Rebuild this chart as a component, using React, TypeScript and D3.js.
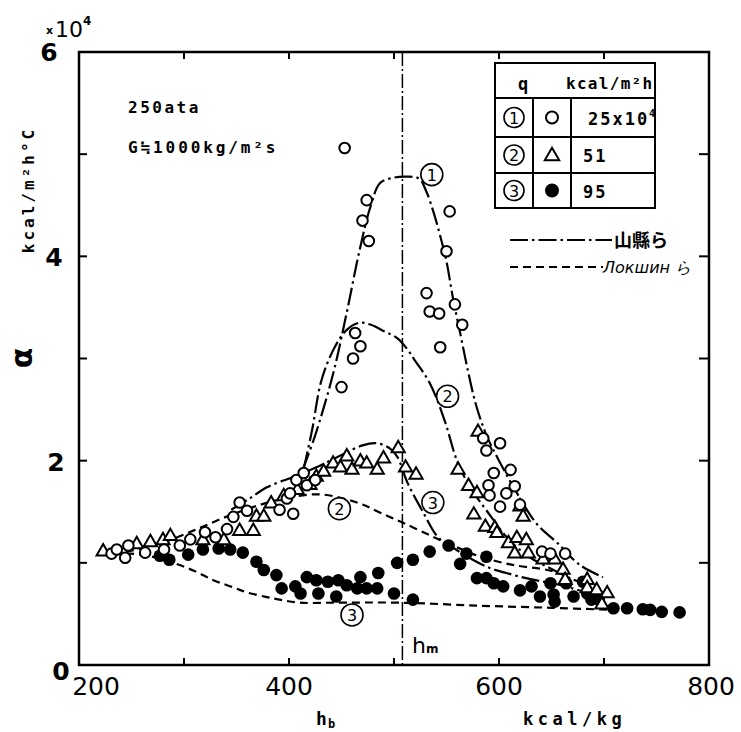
import React from "react";
import * as d3 from "d3";

// heat transfer coefficient alpha (x10^4 kcal/m2h°C) against bulk enthalpy h_b (kcal/kg)
const openCircles: [number, number][] = [
  [231, 1.09], [236, 1.13], [244, 1.05], [247, 1.17], [263, 1.1], [281, 1.13], [296, 1.17],
  [306, 1.23], [320, 1.3], [330, 1.25], [341, 1.33], [347, 1.45], [353, 1.59], [360, 1.51],
  [391, 1.52], [398, 1.63], [401, 1.68], [404, 1.48], [407, 1.81], [414, 1.88], [417, 1.76],
  [425, 1.81],
  [453, 5.06], [474, 4.55], [470, 4.35], [476, 4.15], [463, 3.25], [468, 3.12], [461, 3.0],
  [450, 2.72],
  [553, 4.44], [550, 4.05], [531, 3.64], [534, 3.46], [543, 3.44], [558, 3.53], [565, 3.33],
  [544, 3.11],
  [585, 2.22], [601, 2.17], [588, 2.1], [611, 1.91], [595, 1.88], [590, 1.76], [615, 1.75],
  [591, 1.66], [607, 1.68], [601, 1.55], [620, 1.57], [641, 1.11], [649, 1.09], [663, 1.09],
];

const triangles: [number, number][] = [
  [223, 1.11], [255, 1.18], [268, 1.2], [280, 1.22], [287, 1.26], [318, 1.22], [338, 1.22],
  [353, 1.31], [366, 1.31], [369, 1.45], [376, 1.45], [383, 1.58], [395, 1.65], [408, 1.71],
  [420, 1.76], [426, 1.84], [433, 1.89],
  [442, 1.97], [449, 1.93], [455, 2.04], [460, 1.91], [468, 1.99], [474, 1.97], [484, 1.91],
  [490, 2.02], [504, 2.12], [511, 1.93], [521, 1.86],
  [561, 1.91], [571, 1.75], [579, 1.68], [576, 1.47], [580, 2.28], [587, 1.35], [596, 1.34],
  [598, 1.29], [609, 1.19], [617, 1.24], [626, 1.22], [615, 1.09], [628, 1.09], [620, 1.55],
  [623, 1.45], [642, 1.03], [653, 1.03], [661, 0.93], [663, 0.83], [684, 0.83], [684, 0.75],
  [693, 0.73], [703, 0.7], [698, 0.59],
];

const filledDots: [number, number][] = [
  [277, 1.07], [286, 1.03], [304, 1.08], [318, 1.13], [333, 1.14], [344, 1.13], [356, 1.1],
  [369, 1.01], [376, 0.93], [388, 0.88], [393, 0.75], [406, 0.77], [411, 0.7], [417, 0.86],
  [426, 0.83], [428, 0.7], [437, 0.815], [445, 0.67], [447, 0.83], [455, 0.78], [465, 0.75],
  [468, 0.86], [474, 0.75], [484, 0.75], [485, 0.9], [500, 0.7], [503, 1.0], [518, 0.64],
  [518, 1.03], [534, 1.11], [552, 1.17], [563, 0.99], [569, 1.09], [588, 1.06], [579, 0.85],
  [588, 0.85], [595, 0.8], [604, 0.77], [620, 0.73], [631, 0.77], [639, 0.67], [649, 0.8],
  [652, 0.69], [653, 0.62], [664, 0.8], [671, 0.67], [680, 0.815], [684, 0.7], [688, 0.64],
  [695, 0.64], [709, 0.555], [722, 0.555], [737, 0.545], [744, 0.54], [755, 0.52], [772, 0.515],
];

// 山縣ら (dash-dot)
const yamagata1: [number, number][] = [
  [413, 1.91], [425, 2.25], [442, 2.85], [455, 3.45], [467, 4.05], [478, 4.5], [487, 4.72],
  [500, 4.77], [512, 4.78], [524, 4.76], [531, 4.63], [538, 4.42], [544, 4.2], [550, 3.95],
  [556, 3.6], [563, 3.25], [570, 2.9], [578, 2.55], [588, 2.25], [600, 2.0], [615, 1.72],
  [636, 1.38], [655, 1.2], [677, 0.98], [699, 0.86],
];
const yamagata2: [number, number][] = [
  [414, 1.92], [422, 2.3], [431, 2.79], [443, 3.1], [455, 3.28], [467, 3.35], [478, 3.33],
  [490, 3.27], [503, 3.2], [512, 3.1], [520, 2.98], [534, 2.76], [548, 2.4], [560, 2.0],
  [572, 1.75], [589, 1.5], [610, 1.22], [630, 1.05], [650, 0.94], [670, 0.84], [690, 0.76],
];
const yamagata3: [number, number][] = [
  [345, 1.52], [361, 1.62], [379, 1.74], [404, 1.84], [425, 1.93], [451, 2.06], [470, 2.15],
  [484, 2.17], [496, 2.12], [503, 2.04], [513, 1.78], [528, 1.49], [542, 1.25], [556, 1.15],
  [575, 1.03], [591, 0.95], [607, 0.9], [630, 0.84], [655, 0.79], [680, 0.72],
];
// Лoкшин ら (dashed)
const lokshin2: [number, number][] = [
  [220, 1.1], [250, 1.12], [280, 1.2], [310, 1.32], [340, 1.45], [370, 1.56], [400, 1.64],
  [430, 1.67], [455, 1.62], [470, 1.57], [487, 1.49], [509, 1.39], [534, 1.27], [551, 1.19],
  [570, 1.11], [582, 1.06], [613, 0.98], [646, 0.93], [663, 0.88],
];
const lokshin3: [number, number][] = [
  [220, 1.1], [260, 1.08], [287, 1.01], [310, 0.92], [328, 0.83], [347, 0.76], [360, 0.71],
  [379, 0.665], [391, 0.64], [410, 0.61], [442, 0.61], [505, 0.61], [582, 0.58], [650, 0.56],
  [706, 0.54],
];

const curveLabels = [
  { t: "1", h: 536, a: 4.8 },
  { t: "2", h: 551, a: 2.63 },
  { t: "3", h: 537, a: 1.59 },
  { t: "2", h: 448, a: 1.53 },
  { t: "3", h: 460, a: 0.49 },
];

const xTicks = [300, 400, 500, 600, 700];
const yTicks = [1, 2, 3, 4, 5];
const xLabels = ["200", "400", "600", "800"];
const yLabels = ["0", "2", "4", "6"];
const hm = 508;

const tableRows = [
  { n: "1", v: "25x10", sup: "4" },
  { n: "2", v: "51", sup: "" },
  { n: "3", v: "95", sup: "" },
];

const mono = "'DejaVu Sans Mono', monospace";
const sans = "'DejaVu Sans', sans-serif";
const yamDash = "18 4 2.5 4";
const lokDash = "8 5";

const Circled = ({ cx, cy, t, r = 11 }: { cx: number; cy: number; t: string; r?: number }) => (
  <g>
    <circle cx={cx} cy={cy} r={r} fill="white" stroke="black" strokeWidth={1.6} />
    <text x={cx} y={cy + 6} textAnchor="middle" fontFamily={sans} fontSize={16}>
      {t}
    </text>
  </g>
);

export default function App() {
  const x = d3.scaleLinear().domain([200, 800]).range([79, 709]);
  const y = d3.scaleLinear().domain([0, 6]).range([665, 52]);
  const line = d3
    .line<[number, number]>()
    .x((d) => x(d[0]))
    .y((d) => y(d[1]))
    .curve(d3.curveCatmullRom.alpha(0.5));
  const tri = d3.symbol(d3.symbolTriangle, 75)();

  const xLabelPos = [96, x(400), x(600), x(800) + 2];
  const yLabelPos = [
    [61, 680],
    [56, y(2) + 10],
    [54, y(4) + 10],
    [49, 61],
  ];

  return (
    <svg
      width={741}
      height={732}
      style={{ position: "absolute", left: 0, top: 0, background: "white" }}
    >
      <rect width={741} height={732} fill="white" />

      {/* frame and inward ticks */}
      <rect x={79} y={52} width={630} height={613} fill="none" stroke="black" strokeWidth={2.5} />
      {xTicks.map((t) => (
        <g key={"xt" + t} stroke="black" strokeWidth={2}>
          <line x1={x(t)} x2={x(t)} y1={665} y2={658} />
          <line x1={x(t)} x2={x(t)} y1={52} y2={59} />
        </g>
      ))}
      {yTicks.map((t) => (
        <g key={"yt" + t} stroke="black" strokeWidth={2}>
          <line x1={79} x2={87} y1={y(t)} y2={y(t)} />
          <line x1={709} x2={699} y1={y(t)} y2={y(t)} />
        </g>
      ))}

      {/* tick labels */}
      {xLabels.map((l, i) => (
        <text key={"xl" + l} x={xLabelPos[i]} y={695} textAnchor="middle" fontFamily={sans} fontSize={25}>
          {l}
        </text>
      ))}
      {yLabels.map((l, i) => (
        <text key={"yl" + l} x={yLabelPos[i][0]} y={yLabelPos[i][1]} textAnchor="middle" fontFamily={sans} fontSize={25} fontWeight="bold">
          {l}
        </text>
      ))}
      <text x={46} y={34} fontFamily={sans} fontSize={11} fontWeight="bold">x</text>
      <text x={55} y={37} fontFamily={sans} fontSize={22}>10</text>
      <text x={83} y={25} fontFamily={sans} fontSize={12} fontWeight="bold">4</text>

      {/* axis titles */}
      <text
        transform="translate(34,190) rotate(-90)"
        textAnchor="middle"
        fontFamily={mono}
        fontSize={16}
        fontWeight="bold"
        letterSpacing={3}
      >
        kcal/m²h°C
      </text>
      <text transform="translate(32,358) rotate(-90)" textAnchor="middle" fontFamily={sans} fontSize={30} fontWeight="bold">
        α
      </text>
      <text x={316} y={725} fontFamily={mono} fontSize={18} fontWeight="bold">h</text>
      <text x={328} y={728} fontFamily={mono} fontSize={12} fontWeight="bold">b</text>
      <text x={523} y={725} fontFamily={mono} fontSize={17} fontWeight="bold" letterSpacing={4.5}>
        kcal/kg
      </text>

      {/* conditions */}
      <text x={128} y={113} fontFamily={mono} fontSize={16} fontWeight="bold" letterSpacing={2.5}>
        250ata
      </text>
      <text x={128} y={153} fontFamily={mono} fontSize={16} fontWeight="bold" letterSpacing={2.9}>
        G≒1000kg/m²s
      </text>

      {/* h_m line */}
      <line x1={x(hm)} x2={x(hm)} y1={52} y2={665} stroke="black" strokeWidth={1.5} strokeDasharray="14 3 2 3" />
      <text x={412} y={653} fontFamily={sans} fontSize={22}>h</text>
      <text x={426} y={653} fontFamily={sans} fontSize={12} fontWeight="bold">m</text>

      {/* curves */}
      {[yamagata1, yamagata2, yamagata3].map((c, i) => (
        <path key={"y" + i} d={line(c) || ""} fill="none" stroke="black" strokeWidth={2.2} strokeDasharray={yamDash} />
      ))}
      {[lokshin2, lokshin3].map((c, i) => (
        <path key={"l" + i} d={line(c) || ""} fill="none" stroke="black" strokeWidth={2.2} strokeDasharray={lokDash} />
      ))}

      {/* data points */}
      {filledDots.map((d, i) => (
        <circle key={"f" + i} cx={x(d[0])} cy={y(d[1])} r={6.3} fill="black" />
      ))}
      {triangles.map((d, i) => (
        <path key={"t" + i} d={tri || ""} transform={`translate(${x(d[0])},${y(d[1])})`} fill="white" stroke="black" strokeWidth={2} />
      ))}
      {openCircles.map((d, i) => (
        <circle key={"o" + i} cx={x(d[0])} cy={y(d[1])} r={5.3} fill="white" stroke="black" strokeWidth={2} />
      ))}

      {curveLabels.map((l, i) => (
        <Circled key={"cl" + i} cx={x(l.h)} cy={y(l.a)} t={l.t} />
      ))}

      {/* legend table */}
      <g stroke="black" strokeWidth={2} fill="none">
        <rect x={495} y={63} width={160} height={145} fill="white" />
        <line x1={495} x2={655} y1={98} y2={98} />
        <line x1={495} x2={655} y1={137} y2={137} />
        <line x1={495} x2={655} y1={173} y2={173} />
        <line x1={533} x2={533} y1={98} y2={208} />
        <line x1={571} x2={571} y1={98} y2={208} />
      </g>
      <text x={523} y={90} textAnchor="middle" fontFamily={mono} fontSize={17} fontWeight="bold">q</text>
      <text x={566} y={89} fontFamily={mono} fontSize={16} fontWeight="bold" letterSpacing={1.3}>
        kcal/m²h
      </text>
      {tableRows.map((r, i) => {
        const cy = [117.5, 155, 190.5][i];
        return (
          <g key={"row" + i}>
            <Circled cx={514} cy={cy} t={r.n} r={10} />
            {i === 0 && <circle cx={552} cy={cy} r={6} fill="white" stroke="black" strokeWidth={2} />}
            {i === 1 && (
              <path d={d3.symbol(d3.symbolTriangle, 90)() || ""} transform={`translate(552,${cy + 1})`} fill="white" stroke="black" strokeWidth={2} />
            )}
            {i === 2 && <circle cx={552} cy={cy} r={7} fill="black" />}
            <text x={i === 0 ? 588 : 583} y={cy + 7} fontFamily={mono} fontSize={17} fontWeight="bold" letterSpacing={2}>
              {r.v}
            </text>
            {r.sup && (
              <text x={649} y={cy - 1} fontFamily={mono} fontSize={10} fontWeight="bold">
                {r.sup}
              </text>
            )}
          </g>
        );
      })}

      {/* line legend */}
      <line x1={510} x2={612} y1={240} y2={240} stroke="black" strokeWidth={2} strokeDasharray={yamDash} />
      <text x={614} y={247} fontFamily="'Noto Sans CJK JP', sans-serif" fontSize={18} fontWeight="bold">
        山縣ら
      </text>
      <line x1={510} x2={603} y1={267} y2={267} stroke="black" strokeWidth={2} strokeDasharray={lokDash} />
      <text x={603} y={273} fontFamily="'DejaVu Sans', sans-serif" fontSize={16} fontStyle="italic">
        Лoкшин ら
      </text>
    </svg>
  );
}
